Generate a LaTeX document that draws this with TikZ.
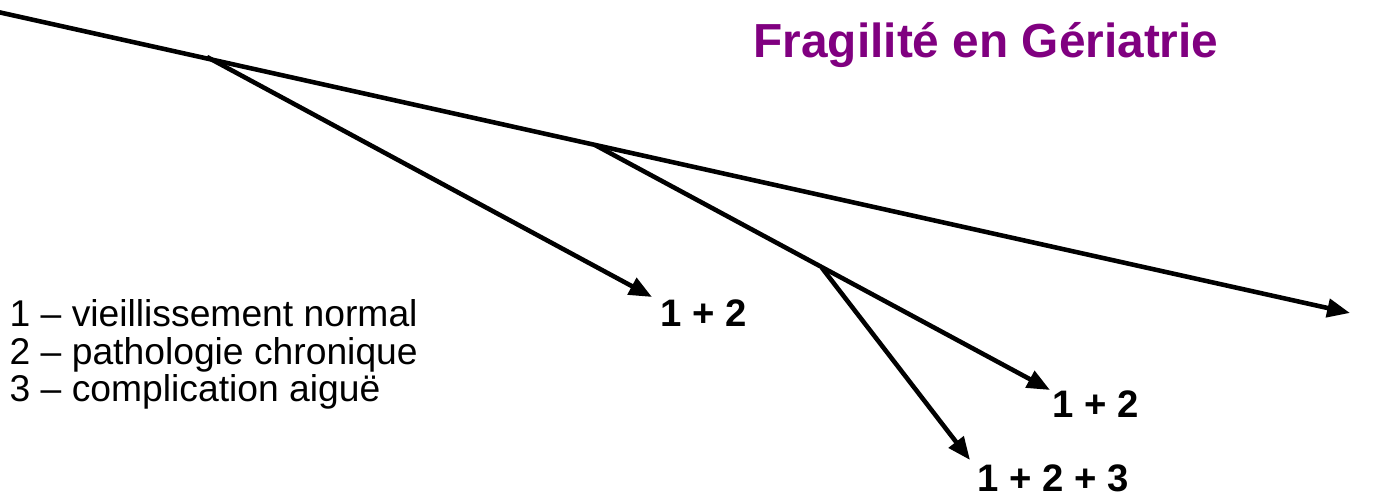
\documentclass[tikz,border=0pt]{standalone}
\usepackage{fontspec}
\setmainfont{Liberation Sans}
\usepackage{xcolor}
\usepackage{tikz}
\usetikzlibrary{arrows.meta, positioning}
\definecolor{gerpurple}{RGB}{128,0,128}

\begin{document}
\begin{tikzpicture}[
  label/.style={font=\fontsize{10.9}{12}\selectfont\bfseries, anchor=base, inner sep=0pt},
  legend/.style={font=\fontsize{10.6}{12}\selectfont, anchor=base west, inner sep=0pt},
  arrow/.style={-{Triangle[length=6.5pt,width=5.2pt]}, line width=1.3pt, black}
]
\useasboundingbox (0,0) rectangle (13.77,5);

% branch points and arrow tips
\coordinate (top) at (-0.2,4.92);
\coordinate (b1) at (2.07,4.43);
\coordinate (b2) at (5.95,3.55);
\coordinate (b3) at (8.22,2.32);
\coordinate (e0) at (13.50,1.87);
\coordinate (e1) at (6.52,2.03);
\coordinate (e2) at (10.50,1.10);
\coordinate (e3) at (9.70,0.40);

\node[font=\fontsize{13.6}{15}\selectfont\bfseries, text=gerpurple, anchor=base, inner sep=0pt] (title) at (9.86,4.42) {Fragilité en Gériatrie};

\node[label] (lab1) at (7.04,1.73) {1 + 2};
\node[label] (lab2) at (10.96,0.82) {1 + 2};
\node[label] (lab3) at (10.53,0.08) {1 + 2 + 3};

\node[legend] (leg1) at (0.09,1.73) {1 – vieillissement normal};
\node[legend] (leg2) at (0.09,1.355) {2 – pathologie chronique};
\node[legend] (leg3) at (0.09,0.98) {3 – complication aiguë};

\draw[arrow] (top) -- (e0);
\draw[arrow] (b1) -- (e1);
\draw[arrow] (b2) -- (e2);
\draw[arrow] (b3) -- (e3);
\end{tikzpicture}
\end{document}
